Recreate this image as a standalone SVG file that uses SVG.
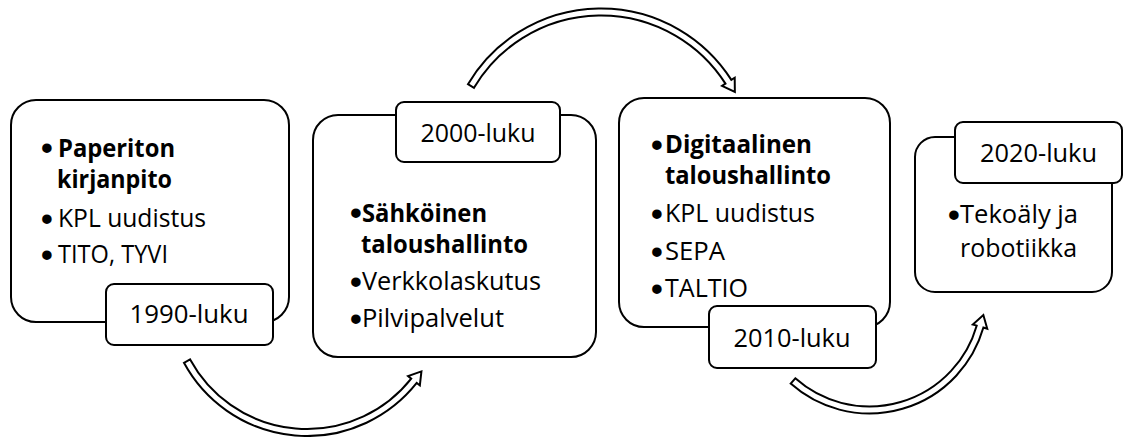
<svg xmlns="http://www.w3.org/2000/svg" width="1124" height="437" viewBox="0 0 1124 437">
  <style>
    .box { fill: #fff; stroke: #000; stroke-width: 2; }
    .arrow { fill: #fff; stroke: #000; stroke-width: 2; stroke-linejoin: miter; }
    .t { font-family: "Open Sans", "Liberation Sans", sans-serif; font-size: 25px; fill: #000; }
    .b { font-weight: bold; }
    .bul { font-family: "Liberation Sans", "Open Sans", sans-serif; font-size: 35px; fill: #000; text-anchor: middle; }
    .lbl { font-family: "Open Sans", "Liberation Sans", sans-serif; font-size: 26px; fill: #000; text-anchor: middle; }
  </style>

  <!-- curved block arrows between the eras -->
  <g id="connectors">
    <path class="arrow" d="M183.97,362.80 A140,140 0 0 0 416.72,382.96 L419.85,385.45 L421.42,371.39 L408.10,376.13 L411.23,378.61 A133,133 0 0 1 190.12,359.46 Z"/>
    <path class="arrow" d="M467.98,84.22 A154.7,154.7 0 0 1 731.34,79.85 L734.71,77.70 L734.85,91.85 L722.07,85.78 L725.44,83.62 A147.7,147.7 0 0 0 474.00,87.79 Z"/>
    <path class="arrow" d="M790.66,383.59 A118.6,118.6 0 0 0 983.41,327.59 L987.25,328.69 L983.35,315.09 L972.83,324.56 L976.68,325.66 A111.6,111.6 0 0 1 795.31,378.35 Z"/>
  </g>

  <!-- 1990s -->
  <g id="node-1990">
    <rect class="box" x="11" y="100" width="278" height="222" rx="25"/>
    <text class="bul" x="47" y="160">•</text>
    <text class="t b"><tspan x="58" y="156.5" textLength="117" lengthAdjust="spacingAndGlyphs">Paperiton</tspan><tspan x="57" y="187.5" textLength="115" lengthAdjust="spacingAndGlyphs">kirjanpito</tspan></text>
    <text class="bul" x="47" y="230.5">•</text>
    <text class="t" x="58" y="227" textLength="148" lengthAdjust="spacingAndGlyphs">KPL uudistus</text>
    <text class="bul" x="47" y="266.5">•</text>
    <text class="t" x="58" y="263" textLength="110" lengthAdjust="spacingAndGlyphs">TITO, TYVI</text>
    <rect class="box" x="106" y="284" width="167" height="61" rx="8"/>
    <text class="lbl" x="189" y="323" textLength="119" lengthAdjust="spacingAndGlyphs">1990-luku</text>
  </g>

  <!-- 2000s -->
  <g id="node-2000">
    <rect class="box" x="313" y="115" width="283" height="242" rx="25"/>
    <rect class="box" x="396" y="102" width="164" height="60" rx="8"/>
    <text class="lbl" x="478" y="142" textLength="115" lengthAdjust="spacingAndGlyphs">2000-luku</text>
    <text class="bul" x="356" y="225">•</text>
    <text class="t b"><tspan x="362" y="221.5" textLength="125" lengthAdjust="spacingAndGlyphs">Sähköinen</tspan><tspan x="361" y="252.5" textLength="167" lengthAdjust="spacingAndGlyphs">taloushallinto</tspan></text>
    <text class="bul" x="356" y="293.5">•</text>
    <text class="t" x="362" y="290" textLength="179" lengthAdjust="spacingAndGlyphs">Verkkolaskutus</text>
    <text class="bul" x="356" y="330.5">•</text>
    <text class="t" x="362" y="327" textLength="142" lengthAdjust="spacingAndGlyphs">Pilvipalvelut</text>
  </g>

  <!-- 2010s -->
  <g id="node-2010">
    <rect class="box" x="619" y="98" width="271" height="229" rx="25"/>
    <text class="bul" x="657" y="156.5">•</text>
    <text class="t b"><tspan x="665" y="153" textLength="147" lengthAdjust="spacingAndGlyphs">Digitaalinen</tspan><tspan x="665" y="184" textLength="166" lengthAdjust="spacingAndGlyphs">taloushallinto</tspan></text>
    <text class="bul" x="657" y="225.5">•</text>
    <text class="t" x="665" y="222" textLength="150" lengthAdjust="spacingAndGlyphs">KPL uudistus</text>
    <text class="bul" x="657" y="263.5">•</text>
    <text class="t" x="665" y="260" textLength="60" lengthAdjust="spacingAndGlyphs">SEPA</text>
    <text class="bul" x="657" y="300.5">•</text>
    <text class="t" x="665" y="297" textLength="83" lengthAdjust="spacingAndGlyphs">TALTIO</text>
    <rect class="box" x="709" y="306" width="167" height="62" rx="8"/>
    <text class="lbl" x="792" y="347" textLength="117" lengthAdjust="spacingAndGlyphs">2010-luku</text>
  </g>

  <!-- 2020s -->
  <g id="node-2020">
    <rect class="box" x="915" y="137" width="197" height="155" rx="20"/>
    <rect class="box" x="955" y="122" width="167" height="61" rx="8"/>
    <text class="lbl" x="1038.5" y="162" textLength="117" lengthAdjust="spacingAndGlyphs">2020-luku</text>
    <text class="bul" x="954" y="226.5">•</text>
    <text class="t"><tspan x="960" y="223" textLength="118" lengthAdjust="spacingAndGlyphs">Tekoäly ja</tspan><tspan x="960" y="257" textLength="117" lengthAdjust="spacingAndGlyphs">robotiikka</tspan></text>
  </g>
</svg>
